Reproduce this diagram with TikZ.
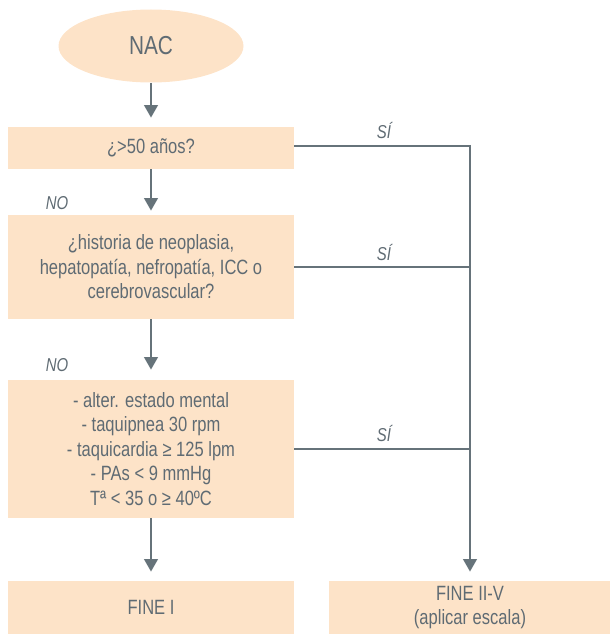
\documentclass[tikz,border=0pt]{standalone}
\usepackage{fontspec}
\setmainfont{Liberation Sans}[FakeStretch=0.8]
\usetikzlibrary{shapes.geometric,arrows.meta}
\definecolor{peach}{HTML}{FDE3C8}
\definecolor{lgray}{HTML}{66737A}
\definecolor{tgray}{HTML}{5F6B73}
\begin{document}
\begin{tikzpicture}[x=0.75pt,y=-0.75pt,
  box/.style={rectangle,fill=peach,draw=none,minimum width=286*0.75pt,inner sep=0pt,
    text=tgray,font=\fontsize{15.5}{18.3}\selectfont,align=center},
  lbl/.style={text=tgray,font=\fontsize{14}{16}\selectfont\itshape,inner sep=0pt},
  arr/.style={draw=lgray,line width=2.2pt,-{Triangle[width=10pt,length=9.5pt]},shorten >=6.75pt},
  conn/.style={draw=lgray,line width=1.7pt}]
\useasboundingbox (0,0) rectangle (610,635);
\node[ellipse,fill=peach,minimum width=185*0.75pt,minimum height=73*0.75pt,inner sep=0pt,
  text=tgray,font=\fontsize{19.5}{22}\selectfont] (nac) at (151,46) {NAC};
\node[box,minimum height=42*0.75pt] (b1) at (151,148) {¿>50 años?};
\node[box,minimum height=104*0.75pt] (b2) at (151,267) {¿historia de neoplasia,\\hepatopatía, nefropatía, ICC o\\cerebrovascular?};
\node[box,minimum height=138*0.75pt] (b3) at (151,449) {- alter. estado mental\\- taquipnea 30 rpm\\- taquicardia ≥ 125 lpm\\- PAs < 9 mmHg\\Tª < 35 o ≥ 40ºC};
\node[box,minimum height=53*0.75pt] (f1) at (151,607.5) {FINE I};
\node[box,minimum width=282*0.75pt,minimum height=53*0.75pt] (f2) at (470,607.5) {FINE II-V\\(aplicar escala)};
\coordinate (j1) at (470,146);
\coordinate (j2) at (470,267);
\coordinate (j3) at (470,449);
\draw[arr,shorten >=9*0.75pt] (nac) -- (b1);
\draw[arr,shorten >=4*0.75pt] (b1) -- (b2);
\draw[arr,shorten >=10*0.75pt] (b2) -- (b3);
\draw[arr,shorten >=9*0.75pt] (b3) -- (f1);
\draw[conn] (b1.east |- j1) -- (j1);
\draw[conn] (b2.east) -- (j2);
\draw[conn] (b3.east) -- (j3);
\draw[arr,shorten >=9*0.75pt] ([yshift=0.85pt]j1) -- (f2);
\node[lbl] (s1) at (384,130) {SÍ};
\node[lbl] (s2) at (384,252) {SÍ};
\node[lbl] (s3) at (384,433) {SÍ};
\node[lbl] (n1) at (57,203) {NO};
\node[lbl] (n2) at (57,365) {NO};
\end{tikzpicture}
\end{document}
